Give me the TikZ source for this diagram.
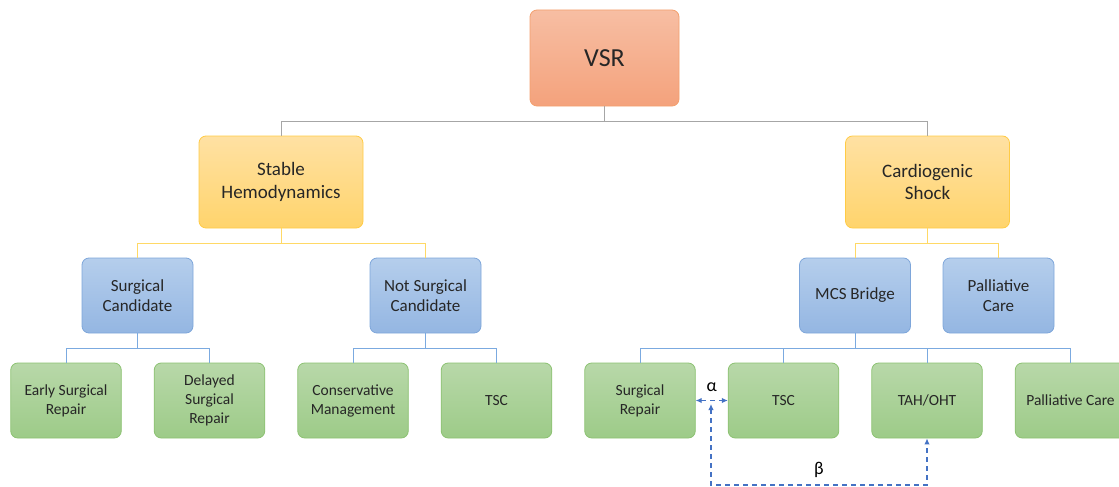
\documentclass[tikz,border=0pt]{standalone}
\usepackage{fontspec}
\setmainfont{Carlito}
\usetikzlibrary{positioning,arrows.meta}

\definecolor{rootTop}{HTML}{F7BEA3}
\definecolor{rootBot}{HTML}{F4A27C}
\definecolor{rootLine}{HTML}{F3A06E}
\definecolor{stateTop}{HTML}{FFE1A3}
\definecolor{stateBot}{HTML}{FFD46C}
\definecolor{stateLine}{HTML}{FFCB45}
\definecolor{groupTop}{HTML}{B5CEEC}
\definecolor{groupBot}{HTML}{94B6E2}
\definecolor{groupLine}{HTML}{7EA6DA}
\definecolor{leafTop}{HTML}{B8D8A9}
\definecolor{leafBot}{HTML}{9DCB88}
\definecolor{leafLine}{HTML}{8CC272}
\definecolor{grayEdge}{HTML}{A6A6A6}
\definecolor{yellowEdge}{HTML}{FFD966}
\definecolor{blueEdge}{HTML}{7BAAE0}
\definecolor{dashBlue}{HTML}{4472C4}

\begin{document}
\begin{tikzpicture}
  [x=1pt,y=-1pt,
   boxN/.style={draw,rounded corners=7pt,align=center,line width=0.8pt,inner sep=2pt,text=black!85},
   rootN/.style={boxN,minimum width=149pt,minimum height=96pt,top color=rootTop,bottom color=rootBot,draw=rootLine,font=\fontsize{26}{30}\selectfont},
   stateN/.style={boxN,minimum width=164pt,minimum height=92pt,top color=stateTop,bottom color=stateBot,draw=stateLine,font=\fontsize{19}{22.5}\selectfont},
   groupN/.style={boxN,minimum width=111pt,minimum height=75pt,top color=groupTop,bottom color=groupBot,draw=groupLine,font=\fontsize{17}{20}\selectfont},
   leafN/.style={boxN,minimum width=110.5pt,minimum height=75pt,top color=leafTop,bottom color=leafBot,draw=leafLine,font=\fontsize{15.5}{19}\selectfont},
   grayL/.style={draw=grayEdge,line width=0.8pt},
   yellowL/.style={draw=yellowEdge,line width=0.8pt},
   blueL/.style={draw=blueEdge,line width=0.8pt},
   dashA/.style={draw=dashBlue,line width=1.5pt,dash pattern=on 5pt off 4pt,{Latex[length=6pt,width=5.5pt]}-{Latex[length=6pt,width=5.5pt]}},
   node distance=32.2pt]

  \useasboundingbox (0,0) rectangle (1119,487);

  \node[rootN]  (vsr)    at (604.5,58)  {VSR};

  \node[stateN] (stable) at (281,182)   {Stable\\Hemodynamics};
  \node[stateN] (cardio) at (927.5,182) {Cardiogenic\\Shock};

  \node[groupN] (surgC)  at (137.5,295.5) {Surgical\\Candidate};
  \node[groupN] (notC)   at (425.5,295.5) {Not Surgical\\Candidate};
  \node[groupN] (mcs)    at (855,295.5)   {MCS Bridge};
  \node[groupN] (pallG)  at (998.5,295.5) {Palliative\\Care};

  \node[leafN]  (early)  at (66,400.5)       {Early Surgical\\Repair};
  \node[leafN]  (delay)  [right=of early]    {Delayed\\Surgical\\Repair};
  \node[leafN]  (consv)  [right=of delay]    {Conservative\\Management};
  \node[leafN]  (tscA)   [right=of consv]    {TSC};
  \node[leafN]  (srep)   [right=of tscA]     {Surgical\\Repair};
  \node[leafN]  (tscB)   [right=of srep]     {TSC};
  \node[leafN]  (tah)    [right=of tscB]     {TAH/OHT};
  \node[leafN]  (pallL)  [right=of tah]      {Palliative Care};

  % tree lines
  \draw[grayL] (vsr.south) -- ++(0,15) -| (stable.north);
  \draw[grayL] (vsr.south) -- ++(0,15) -| (cardio.north);

  \draw[yellowL] (stable.south) -- ++(0,15) -| (surgC.north);
  \draw[yellowL] (stable.south) -- ++(0,15) -| (notC.north);
  \draw[yellowL] (cardio.south) -- ++(0,15) -| (mcs.north);
  \draw[yellowL] (cardio.south) -- ++(0,15) -| (pallG.north);

  \draw[blueL] (surgC.south) -- ++(0,15) -| (early.north);
  \draw[blueL] (surgC.south) -- ++(0,15) -| (delay.north);
  \draw[blueL] (notC.south) -- ++(0,15) -| (consv.north);
  \draw[blueL] (notC.south) -- ++(0,15) -| (tscA.north);
  \draw[blueL] (mcs.south) -- ++(0,15) -| (srep.north);
  \draw[blueL] (mcs.south) -- ++(0,15) -| (tscB.north);
  \draw[blueL] (mcs.south) -- ++(0,15) -| (tah.north);
  \draw[blueL] (mcs.south) -- ++(0,15) -| (pallL.north);

  % dashed links
  \coordinate (amid) at (711,404);
  \coordinate (bbase) at (711,485);
  \draw[dashA] (srep.east) -- (tscB.west)
    node[midway,above=5pt,text=black,font=\fontsize{18}{21}\selectfont] {α};
  \draw[dashA] (amid) -- (bbase) -| (tah.south)
    node[pos=0.25,above=3pt,text=black,font=\fontsize{18}{21}\selectfont] {β};

\end{tikzpicture}
\end{document}
